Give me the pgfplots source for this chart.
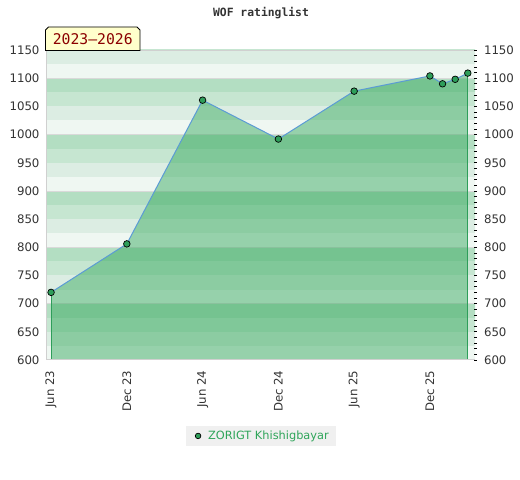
\documentclass[border=0pt]{standalone}
\usepackage{pgfplots}
\pgfplotsset{compat=1.18}
\usepackage{fontspec}
\setmainfont{DejaVu Sans}
\newfontfamily\monofont{DejaVu Sans Mono}
\definecolor{bgA}{HTML}{EFF7F2}
\definecolor{bgB}{HTML}{DCEDE3}
\definecolor{bgC}{HTML}{C6E6D1}
\definecolor{bgD}{HTML}{B3DEC2}
\definecolor{areaC}{RGB}{43,164,85}
\definecolor{lineC}{HTML}{5B9BD5}
\definecolor{markC}{HTML}{2E9E5A}
\definecolor{legC}{HTML}{2FA55A}
\definecolor{labC}{HTML}{333333}
\definecolor{frameC}{HTML}{D0D0D0}
\definecolor{boxC}{HTML}{FFFFCC}
\definecolor{boxT}{HTML}{8B0000}
\begin{document}
\begin{tikzpicture}[x=1bp,y=1bp]
\path[use as bounding box] (0,0) rectangle (520,480);
\begin{axis}[
  at={(46bp,120bp)}, anchor=south west, scale only axis,
  width=429bp, height=310bp,
  xmin=-0.4, xmax=33.57, ymin=600, ymax=1150,
  axis line style={draw=none},
  xtick={0,6,12,18,24,30},
  xticklabels={Jun 23,Dec 23,Jun 24,Dec 24,Jun 25,Dec 25},
  ytick={600,650,...,1150},
  major tick length=0pt, minor tick length=0pt,
  /pgf/number format/1000 sep={},
  /pgf/number format/assume math mode=true,
  ticklabel style={font=\fontsize{11.8}{13}\selectfont, text=labC},
  xticklabel style={rotate=90, anchor=east, xshift=-7bp},
  yticklabel style={xshift=-3bp},
  legend style={at={(axis description cs:0.501,-0.245)}, anchor=center,
    fill=black!6, draw=none, font=\fontsize{11.4}{13}\selectfont, text=legC,
    inner xsep=5bp, inner ysep=2.5bp},
  legend cell align=left,
]
\pgfplotsinvokeforeach{600,700,...,1100}{
  \fill[bgA] (axis cs:-1,#1) rectangle (axis cs:40,#1+25);
  \fill[bgB] (axis cs:-1,#1+25) rectangle (axis cs:40,#1+50);
  \fill[bgC] (axis cs:-1,#1+50) rectangle (axis cs:40,#1+75);
  \fill[bgD] (axis cs:-1,#1+75) rectangle (axis cs:40,#1+100);
  \draw[black!15, line width=0.8bp] (axis cs:-1,#1) -- (axis cs:40,#1);
}
\addplot[draw=none, fill=areaC, fill opacity=0.45, forget plot]
  coordinates {(0,720) (6,806) (12,1061) (18,992) (24,1077) (30,1104) (31,1090) (32,1098) (33,1109)} \closedcycle;
\addplot[markC, line width=1bp, forget plot] coordinates {(0,600) (0,720)};
\addplot[markC, line width=1bp, forget plot] coordinates {(33,600) (33,1109)};
\addplot[lineC, line width=1bp, mark=*, mark size=3.3bp,
  mark options={fill=markC, draw=black, line width=0.7bp, solid},
  legend image code/.code={\path[draw=none, fill=none] (0bp,-1bp) rectangle (15bp,1bp);\filldraw[fill=markC, draw=black, line width=0.7bp] (7bp,0bp) circle (2.8bp);}]
  coordinates {(0,720) (6,806) (12,1061) (18,992) (24,1077) (30,1104) (31,1090) (32,1098) (33,1109)};
\addlegendentry{ZORIGT Khishigbayar}
\draw[frameC, line width=1bp] (rel axis cs:0,1) -- (rel axis cs:0,0) -- (rel axis cs:1,0);
\draw[frameC, line width=0.8bp] (rel axis cs:0,1) -- (rel axis cs:1,1);
\end{axis}
\begin{axis}[
  at={(46bp,120bp)}, anchor=south west, scale only axis,
  width=429bp, height=310bp,
  xmin=-0.4, xmax=33.57, ymin=600, ymax=1150,
  hide x axis,
  axis y line*=right,
  y axis line style={draw=none},
  ytick={600,650,...,1150},
  minor y tick num=4,
  tick align=center,
  major tick length=3bp, minor tick length=3bp,
  every tick/.style={black, line width=0.8bp},
  /pgf/number format/1000 sep={},
  /pgf/number format/assume math mode=true,
  yticklabel style={font=\fontsize{11.8}{13}\selectfont, text=labC, xshift=4bp},
]
\end{axis}
\node[font=\monofont\bfseries\fontsize{11.4}{13}\selectfont, text=labC] at (261,467) {WOF ratinglist};
\filldraw[fill=boxC, draw=black, line width=0.8bp] (45.5,429.5) -- (45.5,450) -- (48.5,453) -- (137,453) -- (140,450) -- (140,429.5) -- cycle;
\node[font=\monofont\fontsize{14.8}{16}\selectfont, text=boxT] at (92.8,440.5) {2023–2026};
\end{tikzpicture}
\end{document}
